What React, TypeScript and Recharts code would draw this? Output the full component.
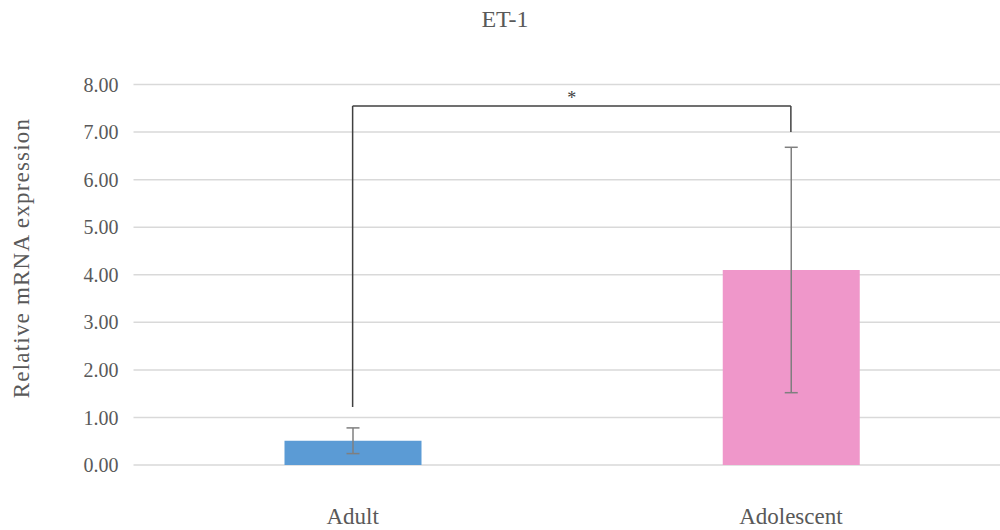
import { BarChart, Bar, XAxis, YAxis, CartesianGrid, ErrorBar, Cell, ReferenceLine } from 'recharts'

// group means and standard deviations
const groups = ['Adult', 'Adolescent']
const means = [0.51, 4.1]
const sds = [0.27, 2.58]
const barColors = ['#5B9BD5', '#EF97CA']
const yTicks = [0, 1, 2, 3, 4, 5, 6, 7, 8]

// significance bracket heights (axis units)
const bracketTop = 7.55
const bracketLeftFoot = 1.22
const bracketRightFoot = 7.0

const data = groups.map((name, i) => ({ name, value: means[i], sd: sds[i] }))

const FONT = "'Liberation Serif', 'DejaVu Serif', Tinos, 'Times New Roman', Times, serif"
const TEXT = '#595959'

export default function App() {
  return (
    <div style={{ position: 'absolute', left: 0, top: 0, width: 1000, height: 530, overflow: 'hidden', background: '#fff', fontFamily: FONT }}>
      <div style={{ position: 'absolute', left: 0, width: 1010, top: 6, textAlign: 'center', fontSize: 24, color: TEXT }}>ET-1</div>
      <div
        style={{
          position: 'absolute',
          left: 22,
          top: 258,
          transform: 'translate(-50%, -50%) rotate(-90deg)',
          whiteSpace: 'nowrap',
          fontSize: 23,
          letterSpacing: 1.2,
          color: TEXT,
        }}
      >
        Relative mRNA expression
      </div>
      <BarChart
        width={1010}
        height={530}
        data={data}
        margin={{ top: 84.5, right: 0, bottom: 0, left: 0 }}
        barSize={137}
        style={{ fontFamily: FONT }}
      >
        <CartesianGrid vertical={false} stroke="#D9D9D9" strokeWidth={1.5} />
        <XAxis
          dataKey="name"
          axisLine={false}
          tickLine={false}
          tickSize={0}
          tickMargin={43}
          height={65}
          tick={{ fill: TEXT, fontSize: 23, fontFamily: FONT }}
        />
        <YAxis
          domain={[0, 8]}
          ticks={yTicks}
          width={133.5}
          axisLine={false}
          tickLine={false}
          tickSize={0}
          tickMargin={15}
          tickFormatter={(v: number) => v.toFixed(2)}
          tick={{ fill: TEXT, fontSize: 20, fontFamily: FONT }}
        />
        <Bar dataKey="value" isAnimationActive={false}>
          {data.map((d, i) => (
            <Cell key={d.name} fill={barColors[i]} />
          ))}
          <ErrorBar dataKey="sd" width={6.5} stroke="#7F7F7F" strokeWidth={1.5} isAnimationActive={false} />
        </Bar>
        <ReferenceLine
          segment={[{ x: groups[0], y: bracketLeftFoot }, { x: groups[0], y: bracketTop }]}
          stroke="#404040"
          strokeWidth={1.5}
        />
        <ReferenceLine
          segment={[{ x: groups[0], y: bracketTop }, { x: groups[1], y: bracketTop }]}
          stroke="#404040"
          strokeWidth={1.5}
          label={{ value: '*', position: 'top', offset: 2, fill: '#404040', fontSize: 18, fontFamily: FONT }}
        />
        <ReferenceLine
          segment={[{ x: groups[1], y: bracketTop }, { x: groups[1], y: bracketRightFoot }]}
          stroke="#404040"
          strokeWidth={1.5}
        />
      </BarChart>
    </div>
  )
}
